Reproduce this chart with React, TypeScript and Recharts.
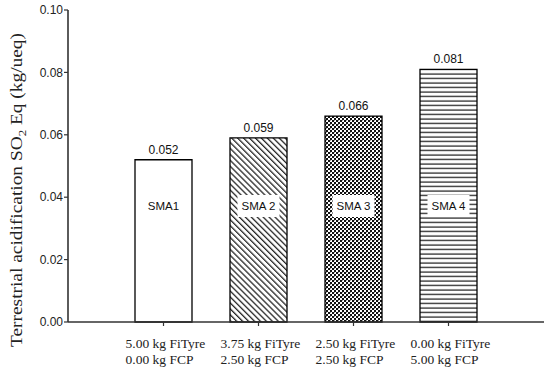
import React from "react";
import { BarChart, Bar, XAxis, YAxis, LabelList, Cell } from "recharts";

const categories = ["SMA1", "SMA 2", "SMA 3", "SMA 4"];
const fiTyre = ["5.00 kg FiTyre", "3.75 kg FiTyre", "2.50 kg FiTyre", "0.00 kg FiTyre"];
const fcp = ["0.00 kg FCP", "2.50 kg FCP", "2.50 kg FCP", "5.00 kg FCP"];
const values = [0.052, 0.059, 0.066, 0.081];
const valueLabels = ["0.052", "0.059", "0.066", "0.081"];
const yTicks = [0, 0.02, 0.04, 0.06, 0.08, 0.1];
const fills = ["#ffffff", "url(#diag)", "url(#checker)", "url(#horiz)"];

const data = categories.map((c, i) => ({
  name: c,
  line1: fiTyre[i],
  line2: fcp[i],
  value: values[i],
  label: valueLabels[i],
}));

const SERIF = "'Liberation Serif', 'DejaVu Serif', serif";
const SANS = "'Liberation Sans', Arial, sans-serif";

const XTick = (props: any) => {
  const { x, y, index } = props;
  const d = data[index];
  return (
    <g>
      <text x={x - 38} y={y + 20} fontFamily={SERIF} fontSize={13.5} fill="#222" textAnchor="start">
        {d.line1}
      </text>
      <text x={x - 38} y={y + 36} fontFamily={SERIF} fontSize={13.5} fill="#222" textAnchor="start">
        {d.line2}
      </text>
    </g>
  );
};

const InnerLabel = (props: any) => {
  const { x, y, width, height, value } = props;
  const cx = x + width / 2;
  const bottom = y + height;
  const cy = bottom - 116;
  return (
    <g>
      <rect x={cx - 21} y={cy - 11} width={42} height={22} fill="#fff" />
      <text x={cx} y={cy + 4} textAnchor="middle" fontFamily={SANS} fontSize={11.5} fill="#111">
        {value}
      </text>
    </g>
  );
};

const YLabel = () => (
  <text
    transform="translate(22,190) rotate(-90)"
    textAnchor="middle"
    fontFamily={SERIF}
    fontSize={16.5}
    fill="#222"
    textLength={314}
    lengthAdjust="spacingAndGlyphs"
  >
    Terrestrial acidification SO
    <tspan fontSize={11} dy={4}>2</tspan>
    <tspan dy={-4}> Eq (kg/ueq)</tspan>
  </text>
);

export default function App() {
  return (
    <div style={{ position: "absolute", left: 0, top: 0, background: "#fff" }}>
      <BarChart
        width={550}
        height={372}
        data={data}
        margin={{ top: 10, right: 6, bottom: 0, left: 0 }}
        barSize={57}
      >
        <defs>
          <pattern id="diag" patternUnits="userSpaceOnUse" width={8} height={4.2} patternTransform="rotate(45)">
            <rect width={8} height={4.2} fill="#fff" />
            <line x1={0} y1={1} x2={8} y2={1} stroke="#000" strokeWidth={1.1} />
          </pattern>
          <pattern id="checker" patternUnits="userSpaceOnUse" width={4} height={4}>
            <rect width={4} height={4} fill="#fff" />
            <rect x={0} y={0} width={2} height={2} fill="#111" />
            <rect x={2} y={2} width={2} height={2} fill="#111" />
            <rect x={1} y={0} width={2} height={1} fill="#111" opacity={0.4} />
          </pattern>
          <pattern id="horiz" patternUnits="userSpaceOnUse" width={8} height={4.5}>
            <rect width={8} height={4.5} fill="#fff" />
            <line x1={0} y1={2} x2={8} y2={2} stroke="#000" strokeWidth={1.1} />
          </pattern>
        </defs>
        <XAxis
          dataKey="name"
          padding={{ left: 48, right: 48 }}
          axisLine={{ stroke: "#333", strokeWidth: 1.6 }}
          tickLine={{ stroke: "#333", strokeWidth: 1.2 }}
          tickSize={4}
          tick={<XTick />}
          interval={0}
          height={50}
        />
        <XAxis
          xAxisId="top"
          dataKey="name"
          orientation="top"
          height={0}
          tick={false}
          tickLine={false}
          axisLine={{ stroke: "#333", strokeWidth: 1.3 }}
        />
        <YAxis
          domain={[0, 0.1]}
          ticks={yTicks}
          width={68}
          interval={0}
          tickFormatter={(v: number) => v.toFixed(2)}
          tick={{ fontFamily: SANS, fontSize: 12, fill: "#222" }}
          axisLine={{ stroke: "#333", strokeWidth: 1.6 }}
          tickLine={{ stroke: "#333", strokeWidth: 1.2 }}
          tickSize={4}
          tickMargin={1}
          label={<YLabel />}
        />
        <YAxis
          yAxisId="right"
          orientation="right"
          domain={[0, 0.1]}
          width={0}
          tick={false}
          tickLine={false}
          axisLine={{ stroke: "#333", strokeWidth: 1.3 }}
        />
        <Bar dataKey="value" stroke="#000" strokeWidth={1.3} isAnimationActive={false}>
          {data.map((d, i) => (
            <Cell key={d.name} fill={fills[i]} />
          ))}
          <LabelList dataKey="label" position="top" offset={6} style={{ fontFamily: SANS, fontSize: 12, fill: "#111" }} />
          <LabelList dataKey="name" content={<InnerLabel />} />
        </Bar>
      </BarChart>
    </div>
  );
}
